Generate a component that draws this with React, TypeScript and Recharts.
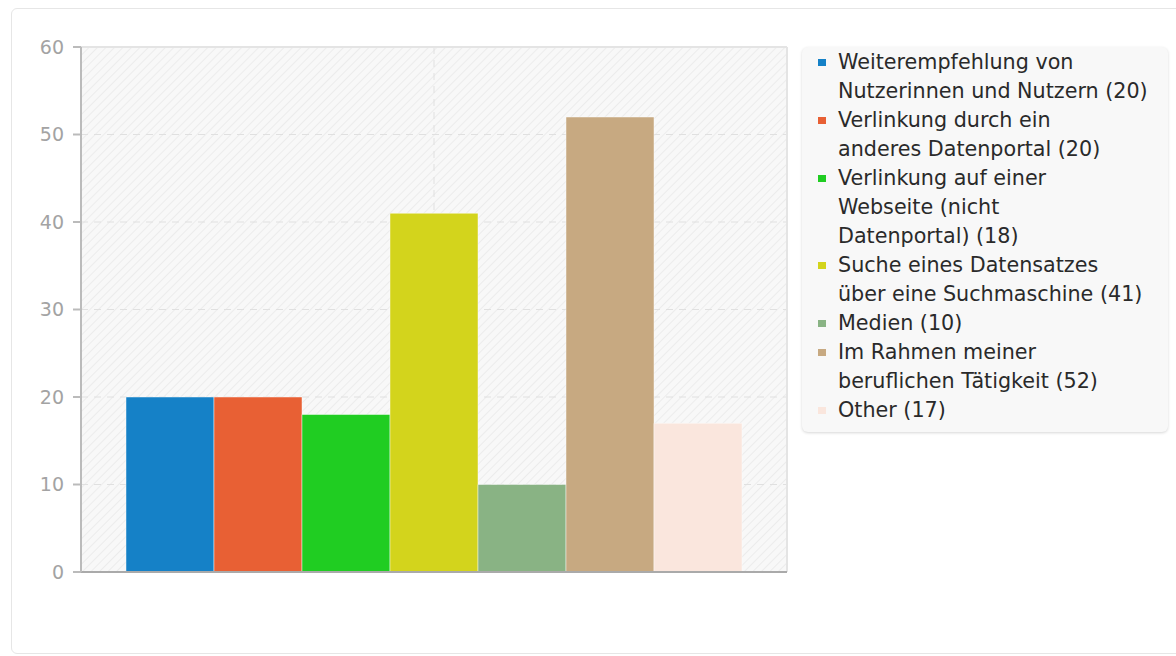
import React from 'react';
import { BarChart, Bar, XAxis, YAxis, CartesianGrid, Legend } from 'recharts';

const categories = ['Quelle'];
const seriesNames = [
  'Weiterempfehlung von\nNutzerinnen und Nutzern',
  'Verlinkung durch ein\nanderes Datenportal',
  'Verlinkung auf einer\nWebseite (nicht\nDatenportal)',
  'Suche eines Datensatzes\nüber eine Suchmaschine',
  'Medien',
  'Im Rahmen meiner\nberuflichen Tätigkeit',
  'Other',
];
const seriesValues = [20, 20, 18, 41, 10, 52, 17];
const seriesColors = ['#1581c7', '#e86034', '#20cd22', '#d3d41c', '#89b384', '#c7a981', '#fae6dd'];
const yTicks = [0, 10, 20, 30, 40, 50, 60];

const data = categories.map((c) => {
  const row: Record<string, any> = { name: c };
  seriesValues.forEach((v, i) => {
    row['s' + i] = v;
  });
  return row;
});

const FONT = '"DejaVu Sans", sans-serif';

const LegendBox = () => (
  <div style={{ paddingLeft: 15, boxSizing: 'border-box', width: 381 }}>
    <div
      style={{
        width: 366,
        boxSizing: 'border-box',
        background: '#f8f8f8',
        borderRadius: 6,
        boxShadow: '0 1px 3px rgba(0,0,0,0.16)',
        padding: '1px 6px 7px 16px',
        fontFamily: FONT,
        fontSize: 20.7,
        lineHeight: '29px',
        color: '#2a2a2a',
      }}
    >
      {seriesNames.map((n, i) => (
        <div key={i} style={{ display: 'flex', alignItems: 'flex-start' }}>
          <span
            style={{
              display: 'inline-block',
              width: 8,
              height: 7,
              background: seriesColors[i],
              marginTop: 11,
              marginRight: 12,
              flex: '0 0 auto',
            }}
          />
          <span style={{ whiteSpace: 'pre-line' }}>{`${n} (${seriesValues[i]})`}</span>
        </div>
      ))}
    </div>
  </div>
);

export default function App() {
  return (
    <div style={{ position: 'absolute', left: 0, top: 0, width: 1176, height: 656, background: '#fff', overflow: 'hidden' }}>
      <svg width={0} height={0} style={{ position: 'absolute' }}>
        <defs>
          <pattern id="hatch" width={6} height={6} patternUnits="userSpaceOnUse" patternTransform="rotate(45)">
            <rect width={6} height={6} fill="#f8f8f8" />
            <line x1={0} y1={0} x2={0} y2={6} stroke="#ececec" strokeWidth={2} />
          </pattern>
        </defs>
      </svg>
      <div
        style={{
          position: 'absolute',
          left: 11,
          top: 8,
          width: 1180,
          height: 646,
          border: '1px solid #e6e6e6',
          borderRadius: 6,
          boxSizing: 'border-box',
        }}
      />
      <div style={{ position: 'absolute', left: 0, top: 0 }}>
        <BarChart
          width={1176}
          height={656}
          data={data}
          margin={{ top: 47, right: 8, bottom: 83, left: 21 }}
          barCategoryGap={44}
          barGap={0}
        >
          <CartesianGrid
            stroke="#e0e0e0"
            strokeDasharray="7 6"
            fill="url(#hatch)"
            fillOpacity={1}
            verticalCoordinatesGenerator={({ offset }: any) => [offset.left + offset.width / 2]}
          />
          <CartesianGrid
            stroke="#e4e4e4"
            strokeWidth={2}
            fill="none"
            horizontalCoordinatesGenerator={({ offset }: any) => [offset.top]}
            verticalCoordinatesGenerator={({ offset }: any) => [offset.left + offset.width]}
          />
          <XAxis
            dataKey="name"
            tick={false}
            tickLine={false}
            height={1}
            padding={{ left: 1, right: 0 }}
            axisLine={{ stroke: '#aaaaaa', strokeWidth: 2 }}
          />
          <YAxis
            domain={[0, 60]}
            ticks={yTicks}
            width={60}
            tickSize={8}
            tickMargin={9}
            interval={0}
            axisLine={{ stroke: '#bbbbbb', strokeWidth: 2 }}
            tickLine={{ stroke: '#bbbbbb', strokeWidth: 2 }}
            tick={{ fill: '#a3a3a3', fontSize: 19, fontFamily: FONT }}
          />
          <Legend
            layout="vertical"
            align="right"
            verticalAlign="top"
            width={381}
            content={() => <LegendBox />}
          />
          {seriesValues.map((_, i) => (
            <Bar
              key={i}
              dataKey={'s' + i}
              name={seriesNames[i]}
              fill={seriesColors[i]}
              stroke="#ffffff"
              strokeOpacity={0.45}
              strokeWidth={1}
              isAnimationActive={false}
            />
          ))}
        </BarChart>
      </div>
    </div>
  );
}
